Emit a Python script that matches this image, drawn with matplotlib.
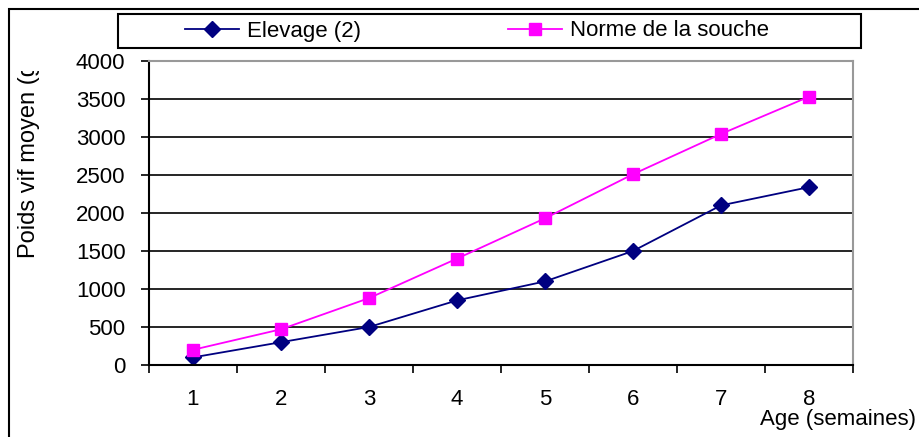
import matplotlib.pyplot as plt
from matplotlib.patches import Rectangle
from matplotlib.transforms import Bbox, TransformedBbox

plt.rcParams['font.family'] = ['Liberation Sans', 'DejaVu Sans']

#%% Data
weeks = ['1', '2', '3', '4', '5', '6', '7', '8']
elevage = [100, 300, 500, 850, 1100, 1500, 2100, 2340]
norme = [200, 470, 880, 1400, 1930, 2510, 3040, 3530]
yticks = [0, 500, 1000, 1500, 2000, 2500, 3000, 3500, 4000]

W, H = 920, 437
fig = plt.figure(figsize=(W/100, H/100), dpi=100)
fs = 16

# outer border of the chart object (runs off to the right and bottom)
fig.patches.append(Rectangle((9/W, -0.05), 1.05, 1 - 9/H + 0.05, transform=fig.transFigure,
                             fill=False, edgecolor='black', linewidth=1.5))

ax = fig.add_axes([149/W, 1 - 365/H, (853-149)/W, (365-61)/H])
x = list(range(len(weeks)))
l1, = ax.plot(x, elevage, color='#000080', marker='D', markersize=8.5, linewidth=1.3, label='Elevage (2)')
l2, = ax.plot(x, norme, color='#FF00FF', marker='s', markersize=8, linewidth=1.3, label='Norme de la souche')

ax.set_xlim(-0.5, len(weeks) - 0.5)
ax.set_ylim(0, 4000)
ax.set_yticks(yticks)
ax.tick_params(axis='y', direction='out', length=6, width=1.2, pad=11, labelsize=fs)
ax.set_xticks([i - 0.5 for i in range(len(weeks) + 1)])
ax.set_xticklabels([])
ax.set_xticks(x, minor=True)
ax.set_xticklabels(weeks, minor=True)
ax.tick_params(axis='x', which='major', direction='out', length=6, width=1.2)
ax.tick_params(axis='x', which='minor', length=0, pad=17, labelsize=fs)
ax.grid(axis='y', color='black', linewidth=1.2)
ax.set_axisbelow(True)
for s in ['left', 'bottom']:
    ax.spines[s].set_color('black')
    ax.spines[s].set_linewidth(1.5)
for s in ['top', 'right']:
    ax.spines[s].set_color('#999999')
    ax.spines[s].set_linewidth(1.5)

# y label, clipped like in the original
yl = fig.text(29/W, 1 - 258/H, 'Poids vif moyen (g)', rotation=90, ha='center', va='bottom', fontsize=17)
yl.set_clip_box(TransformedBbox(Bbox([[0, 0], [1, 1 - 71/H]]), fig.transFigure))
yl.set_clip_on(True)

fig.text(760/W, 1 - 420/H, 'Age (semaines)', ha='left', va='center', fontsize=fs)

# legend box
fig.patches.append(Rectangle((118/W, 1 - 48/H), (861-118)/W, 34/H, transform=fig.transFigure,
                             facecolor='white', edgecolor='black', linewidth=1.5))
fig.legend(handles=[l1, l2], ncol=2, frameon=False, loc='center left',
           bbox_to_anchor=(185/W, 1 - 31/H), borderpad=0, borderaxespad=0,
           handlelength=2.45, handletextpad=0.35, columnspacing=6.6, fontsize=fs)

fig.savefig('out.png', dpi=100)
